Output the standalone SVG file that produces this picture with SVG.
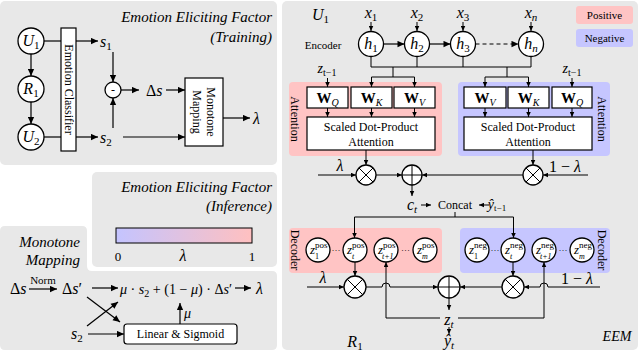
<svg xmlns="http://www.w3.org/2000/svg" width="640" height="352" viewBox="0 0 640 352">
<defs>
<style>
text{font-family:"Liberation Serif","DejaVu Serif",serif;fill:#000}
.m{font-style:italic;font-size:16px}
.sub{font-size:11px;font-style:normal}
.ttl{font-style:italic;font-size:15px}
.sm{font-size:12px}
.xs{font-size:11px}
.ln{stroke:#000;stroke-width:1.2;fill:none}
.th{stroke:#000;stroke-width:1;fill:none}
.box{fill:#fff;stroke:#000;stroke-width:1.2}
.nd{fill:#fff;stroke:#000;stroke-width:1.3}
.panel{fill:#e8e8e8}
.pos{fill:#ffc4c4}
.neg{fill:#c6c6ff}
.a{marker-end:url(#ar)}
.s{marker-end:url(#sa)}
</style>
<marker id="ar" viewBox="0 0 10 10" refX="10" refY="5" markerWidth="8" markerHeight="7" orient="auto" markerUnits="userSpaceOnUse"><path d="M0,0.5 L10,5 L0,9.5 z" fill="#000"/></marker>
<marker id="sa" viewBox="0 0 10 10" refX="10" refY="5" markerWidth="6" markerHeight="5" orient="auto" markerUnits="userSpaceOnUse"><path d="M0,0.5 L10,5 L0,9.5 z" fill="#000"/></marker>
<linearGradient id="lg" x1="0" x2="1" y1="0" y2="0"><stop offset="0" stop-color="#c4c4ff"/><stop offset="1" stop-color="#ffc0c0"/></linearGradient>
<g id="ot"><circle r="10" class="nd"/><path d="M-7.07,-7.07 L7.07,7.07 M-7.07,7.07 L7.07,-7.07" class="th"/></g>
<g id="op"><circle r="10" class="nd"/><path d="M-10,0 H10 M0,-10 V10" class="th"/></g>
<g id="ot2"><circle r="11" class="nd"/><path d="M-7.8,-7.8 L7.8,7.8 M-7.8,7.8 L7.8,-7.8" class="th"/></g>
<g id="op2"><circle r="11" class="nd"/><path d="M-11,0 H11 M0,-11 V11" class="th"/></g>
</defs>

<!-- panels -->
<rect class="panel" x="0" y="1" width="277" height="164" rx="5"/>
<rect class="panel" x="92" y="172" width="185" height="95" rx="5"/>
<path class="panel" d="M5,226 H82 Q87,226 87,231 V266 Q87,271 92,271 H272 Q277,271 277,276 V345 Q277,350 272,350 H5 Q0,350 0,345 V231 Q0,226 5,226 Z"/>
<rect class="panel" x="282" y="1" width="356" height="349" rx="5"/>

<!-- Training panel -->
<g id="training-title">
<text class="ttl" x="272" y="22" text-anchor="end">Emotion Eliciting Factor</text>
<text class="ttl" x="272" y="42" text-anchor="end">(Training)</text>
</g>
<g id="U1"><circle class="nd" cx="31" cy="41" r="13"/><text class="m" x="31" y="46" text-anchor="middle">U<tspan class="sub" dy="3">1</tspan></text></g>
<g id="R1"><circle class="nd" cx="31" cy="89" r="13"/><text class="m" x="31" y="94" text-anchor="middle">R<tspan class="sub" dy="3">1</tspan></text></g>
<g id="U2"><circle class="nd" cx="31" cy="137" r="13"/><text class="m" x="31" y="142" text-anchor="middle">U<tspan class="sub" dy="3">2</tspan></text></g>
<g id="emotion-classifier"><rect class="box" x="61" y="28" width="15" height="123"/><text class="sm" transform="translate(68.5,89.5) rotate(90)" text-anchor="middle" y="4">Emotion Classifier</text></g>
<g id="s1"><text class="m" x="100" y="47">s<tspan class="sub" dy="3">1</tspan></text></g>
<g id="s2"><text class="m" x="100" y="143">s<tspan class="sub" dy="3">2</tspan></text></g>
<g id="minus"><circle class="nd" cx="113" cy="90" r="8"/><text class="sm" x="113" y="94" text-anchor="middle">-</text></g>
<g id="ds"><text class="m" x="146" y="96" style="font-style:normal">Δ<tspan style="font-style:italic">s</tspan></text></g>
<g id="monotone-box"><rect class="box" x="185" y="78" width="38" height="68"/><text class="sm" transform="translate(204,112) rotate(90)" text-anchor="middle"><tspan x="0" y="-3">Monotone</tspan><tspan x="0" y="11">Mapping</tspan></text></g>
<g id="lam1"><text class="m" x="253" y="124">λ</text></g>

<!-- Inference panel -->
<g id="inference">
<text class="ttl" x="272" y="192" text-anchor="end">Emotion Eliciting Factor</text>
<text class="ttl" x="272" y="211" text-anchor="end">(Inference)</text>
<rect x="116" y="228" width="136" height="15" fill="url(#lg)" stroke="#000" stroke-width="1"/>
<text class="sm" x="118" y="261" text-anchor="middle" style="font-size:13px">0</text>
<text class="m" x="183" y="261" text-anchor="middle">λ</text>
<text class="sm" x="252" y="261" text-anchor="middle" style="font-size:13px">1</text>
</g>

<!-- Monotone mapping panel -->
<g id="mm-title">
<text class="ttl" x="80" y="247" text-anchor="end">Monotone</text>
<text class="ttl" x="80" y="265" text-anchor="end">Mapping</text>
</g>
<g id="mm-ds"><text class="m" x="10" y="294" style="font-style:normal">Δ<tspan style="font-style:italic">s</tspan></text><text class="xs" x="43" y="284" text-anchor="middle">Norm</text></g>
<g id="mm-ds2"><text class="m" x="62" y="294" style="font-style:normal">Δ<tspan style="font-style:italic">s</tspan>′</text></g>
<g id="mm-formula"><text class="m" x="120" y="294" style="font-size:14px" textLength="112" lengthAdjust="spacingAndGlyphs"><tspan>μ</tspan><tspan style="font-style:normal"> · </tspan>s<tspan class="sub" dy="3" style="font-size:10px">2</tspan><tspan dy="-3" style="font-style:normal"> + (1 − </tspan>μ<tspan style="font-style:normal">) · Δ</tspan>s<tspan style="font-style:normal">′</tspan></text></g>
<g id="mm-lam"><text class="m" x="256" y="294">λ</text></g>
<g id="mm-s2"><text class="m" x="71" y="339">s<tspan class="sub" dy="3">2</tspan></text></g>
<g id="linear-sigmoid"><rect class="box" x="124" y="324" width="113" height="20" rx="3"/><text class="sm" x="180.5" y="338" text-anchor="middle">Linear &amp; Sigmoid</text></g>
<g id="mm-mu"><text class="m" x="184" y="318" style="font-size:14px">μ</text></g>

<!-- Right panel: EEM -->
<g id="eem-U1"><text class="m" x="312" y="20">U<tspan class="sub" dy="3">1</tspan></text></g>
<g id="encoder-label"><text class="xs" x="323" y="49" text-anchor="middle">Encoder</text></g>
<g id="x-labels">
<text class="m" x="371" y="18" text-anchor="middle">x<tspan class="sub" dy="3">1</tspan></text>
<text class="m" x="417" y="18" text-anchor="middle">x<tspan class="sub" dy="3">2</tspan></text>
<text class="m" x="463" y="18" text-anchor="middle">x<tspan class="sub" dy="3">3</tspan></text>
<text class="m" x="531" y="18" text-anchor="middle">x<tspan class="sub" dy="3" style="font-style:italic">n</tspan></text>
</g>
<g id="h1"><circle class="nd" cx="371" cy="44" r="12.5"/><text class="m" x="371" y="49" text-anchor="middle">h<tspan class="sub" dy="3">1</tspan></text></g>
<g id="h2"><circle class="nd" cx="417" cy="44" r="12.5"/><text class="m" x="417" y="49" text-anchor="middle">h<tspan class="sub" dy="3">2</tspan></text></g>
<g id="h3"><circle class="nd" cx="463" cy="44" r="12.5"/><text class="m" x="463" y="49" text-anchor="middle">h<tspan class="sub" dy="3">3</tspan></text></g>
<g id="hn"><circle class="nd" cx="531" cy="44" r="12.5"/><text class="m" x="531" y="49" text-anchor="middle">h<tspan class="sub" dy="3" style="font-style:italic">n</tspan></text></g>
<g id="legend">
<rect class="pos" x="576" y="6" width="57" height="18" rx="3"/><text class="xs" x="604.5" y="19" text-anchor="middle">Positive</text>
<rect class="neg" x="576" y="29" width="57" height="18" rx="3"/><text class="xs" x="604.5" y="42" text-anchor="middle">Negative</text>
</g>
<g id="zt1-labels">
<text class="m" x="327" y="73" text-anchor="middle" style="font-size:14px">z<tspan class="sub" dy="3" style="font-size:10px">t−1</tspan></text>
<text class="m" x="572" y="73" text-anchor="middle" style="font-size:14px">z<tspan class="sub" dy="3" style="font-size:10px">t−1</tspan></text>
</g>

<g id="attention-pos">
<rect class="pos" x="289" y="82" width="153" height="74" rx="4"/>
<text class="sm" transform="translate(295,119) rotate(90)" text-anchor="middle" y="4">Attention</text>
<rect class="box" x="307" y="87" width="41" height="21"/><text x="327.5" y="103" text-anchor="middle" style="font-weight:bold;font-size:15px">W<tspan dy="3" style="font-size:10px;font-style:italic;font-weight:normal">Q</tspan></text>
<rect class="box" x="351" y="87" width="41" height="21"/><text x="371.5" y="103" text-anchor="middle" style="font-weight:bold;font-size:15px">W<tspan dy="3" style="font-size:10px;font-style:italic;font-weight:normal">K</tspan></text>
<rect class="box" x="394" y="87" width="41" height="21"/><text x="414.5" y="103" text-anchor="middle" style="font-weight:bold;font-size:15px">W<tspan dy="3" style="font-size:10px;font-style:italic;font-weight:normal">V</tspan></text>
<rect class="box" x="307" y="117" width="128" height="33"/>
<text class="sm" x="371" y="131" text-anchor="middle">Scaled Dot-Product</text>
<text class="sm" x="371" y="146" text-anchor="middle">Attention</text>
</g>
<g id="attention-neg">
<rect class="neg" x="458" y="82" width="152" height="74" rx="4"/>
<text class="sm" transform="translate(602,119) rotate(90)" text-anchor="middle" y="4">Attention</text>
<rect class="box" x="464" y="87" width="42" height="21"/><text x="485" y="103" text-anchor="middle" style="font-weight:bold;font-size:15px">W<tspan dy="3" style="font-size:10px;font-style:italic;font-weight:normal">V</tspan></text>
<rect class="box" x="508" y="87" width="41" height="21"/><text x="528.5" y="103" text-anchor="middle" style="font-weight:bold;font-size:15px">W<tspan dy="3" style="font-size:10px;font-style:italic;font-weight:normal">K</tspan></text>
<rect class="box" x="552" y="87" width="40" height="21"/><text x="572" y="103" text-anchor="middle" style="font-weight:bold;font-size:15px">W<tspan dy="3" style="font-size:10px;font-style:italic;font-weight:normal">Q</tspan></text>
<rect class="box" x="464" y="117" width="128" height="33"/>
<text class="sm" x="528" y="131" text-anchor="middle">Scaled Dot-Product</text>
<text class="sm" x="528" y="146" text-anchor="middle">Attention</text>
</g>

<g id="mix-top">
<use href="#ot" x="366" y="175"/>
<use href="#op" x="412" y="175"/>
<use href="#ot" x="533" y="175"/>
<text class="m" x="340" y="171" text-anchor="middle">λ</text>
<text class="m" x="565" y="172" text-anchor="middle" style="font-style:normal">1 − <tspan style="font-style:italic">λ</tspan></text>
</g>
<g id="concat">
<text class="m" x="412" y="210" text-anchor="middle">c<tspan class="sub" dy="3" style="font-style:italic">t</tspan></text>
<text class="sm" x="455" y="209" text-anchor="middle">Concat</text>
<text class="m" x="497" y="209" text-anchor="middle" style="font-size:14px">ŷ<tspan class="sub" dy="2" style="font-size:9px">t−1</tspan></text>
</g>

<g id="decoder-pos">
<rect class="pos" x="289" y="228" width="153" height="45" rx="4"/>
<text class="sm" transform="translate(295,250) rotate(90)" text-anchor="middle" y="4">Decoder</text>
<text class="xs" x="336" y="253" text-anchor="middle" style="font-size:9px">···</text>
<text class="xs" x="405.5" y="253" text-anchor="middle" style="font-size:9px">···</text>
</g>
<g id="zpos1"><circle class="nd" cx="318" cy="250" r="12"/><text class="m" x="310" y="254" style="font-size:13px">z</text><text x="315" y="248" style="font-size:9px">pos</text><text x="315" y="259" style="font-size:8px">1</text></g>
<g id="zpost"><circle class="nd" cx="355" cy="250" r="12"/><text class="m" x="347" y="254" style="font-size:13px">z</text><text x="352" y="248" style="font-size:9px">pos</text><text x="352" y="259" style="font-size:8px;font-style:italic">t</text></g>
<g id="zpost1"><circle class="nd" cx="386" cy="250" r="12"/><text class="m" x="378" y="254" style="font-size:13px">z</text><text x="383" y="248" style="font-size:9px">pos</text><text x="382" y="259" style="font-size:8px;font-style:italic">t+1</text></g>
<g id="zposm"><circle class="nd" cx="425" cy="250" r="12"/><text class="m" x="417" y="254" style="font-size:13px">z</text><text x="422" y="248" style="font-size:9px">pos</text><text x="422" y="259" style="font-size:8px;font-style:italic">m</text></g>

<g id="decoder-neg">
<rect class="neg" x="460" y="228" width="150" height="45" rx="4"/>
<text class="sm" transform="translate(602,250) rotate(90)" text-anchor="middle" y="4">Decoder</text>
<text class="xs" x="495" y="253" text-anchor="middle" style="font-size:9px">···</text>
<text class="xs" x="563" y="253" text-anchor="middle" style="font-size:9px">···</text>
</g>
<g id="zneg1"><circle class="nd" cx="477" cy="250" r="12"/><text class="m" x="469" y="254" style="font-size:13px">z</text><text x="474" y="248" style="font-size:9px">neg</text><text x="474" y="259" style="font-size:8px">1</text></g>
<g id="znegt"><circle class="nd" cx="513" cy="250" r="12"/><text class="m" x="505" y="254" style="font-size:13px">z</text><text x="510" y="248" style="font-size:9px">neg</text><text x="510" y="259" style="font-size:8px;font-style:italic">t</text></g>
<g id="znegt1"><circle class="nd" cx="544" cy="250" r="12"/><text class="m" x="536" y="254" style="font-size:13px">z</text><text x="541" y="248" style="font-size:9px">neg</text><text x="540" y="259" style="font-size:8px;font-style:italic">t+1</text></g>
<g id="znegm"><circle class="nd" cx="582" cy="250" r="12"/><text class="m" x="574" y="254" style="font-size:13px">z</text><text x="579" y="248" style="font-size:9px">neg</text><text x="579" y="259" style="font-size:8px;font-style:italic">m</text></g>

<g id="mix-bottom">
<use href="#ot2" x="355" y="287"/>
<use href="#op2" x="449" y="287"/>
<use href="#ot2" x="513" y="287"/>
<text class="m" x="323" y="283" text-anchor="middle">λ</text>
<text class="m" x="577" y="284" text-anchor="middle" style="font-style:normal">1 − <tspan style="font-style:italic">λ</tspan></text>
</g>
<g id="outputs">
<text class="m" x="449" y="325" text-anchor="middle">z<tspan class="sub" dy="3" style="font-style:italic">t</tspan></text>
<text class="m" x="449" y="346" text-anchor="middle">ŷ<tspan class="sub" dy="3" style="font-style:italic">t</tspan></text>
<text class="m" x="355" y="347" text-anchor="middle">R<tspan class="sub" dy="3">1</tspan></text>
<text class="m" x="617" y="341" text-anchor="middle" style="font-size:14px">EEM</text>
</g>

<!-- connectors -->
<g id="connectors">
<!-- training -->
<path class="ln a" d="M31,54 V76"/>
<path class="ln a" d="M31,102 V124"/>
<path class="ln" d="M44,41 H61"/>
<path class="ln" d="M44,137 H61"/>
<path class="ln a" d="M76,41 H98"/>
<path class="ln a" d="M76,137 H98"/>
<path class="ln a" d="M113,52 V82"/>
<path class="ln a" d="M113,128 V98"/>
<path class="ln a" d="M121,90 H139"/>
<path class="ln a" d="M166,90 H185"/>
<path class="ln a" d="M123,137 H185"/>
<path class="ln a" d="M223,118 H250"/>
<!-- monotone mapping -->
<path class="ln a" d="M29,289 H57"/>
<path class="ln a" d="M92,288 H118"/>
<path class="ln a" d="M235,288 H251"/>
<path class="ln a" d="M87,297 L120,322"/>
<path class="ln a" d="M87,326 L118,302"/>
<path class="ln a" d="M88,334 H124"/>
<path class="ln a" d="M180,324 V303"/>
<!-- encoder -->
<path class="th s" d="M371,22 V31"/>
<path class="th s" d="M417,22 V31"/>
<path class="th s" d="M463,22 V31"/>
<path class="th s" d="M531,22 V31"/>
<path class="ln a" d="M383.5,44 H404.5"/>
<path class="ln a" d="M429.5,44 H450.5"/>
<path class="ln a" d="M475.5,44 H518.5" stroke-dasharray="4,3"/>
<path class="th" d="M371,56.5 V67 M417,56.5 V67 M463,56.5 V67 M531,56.5 V67 M371,67 H531"/>
<path class="th" d="M393,67 V77 M371.5,77 H414.5 M507,67 V77 M485,77 H528.5"/>
<path class="th s" d="M371.5,77 V87"/>
<path class="th s" d="M414.5,77 V87"/>
<path class="th s" d="M485,77 V87"/>
<path class="th s" d="M528.5,77 V87"/>
<path class="th s" d="M327.5,78 V87"/>
<path class="th s" d="M572,78 V87"/>
<path class="th s" d="M327.5,108 V117"/>
<path class="th s" d="M371.5,108 V117"/>
<path class="th s" d="M414.5,108 V117"/>
<path class="th s" d="M485,108 V117"/>
<path class="th s" d="M528.5,108 V117"/>
<path class="th s" d="M572,108 V117"/>
<!-- top mixing -->
<path class="th s" d="M366,150 V165"/>
<path class="th s" d="M533,150 V165"/>
<path class="th s" d="M318,175 H356"/>
<path class="th s" d="M376,175 H402"/>
<path class="th s" d="M523,175 H422"/>
<path class="th s" d="M588,175 H543"/>
<path class="th s" d="M412,185 V196"/>
<path class="th s" d="M421,205 H431"/>
<path class="th s" d="M489,205 H479"/>
<path class="th" d="M455,212 V217 M354.5,217 H513.5"/>
<path class="th s" d="M354.5,217 V238"/>
<path class="th s" d="M513.5,217 V238"/>
<!-- decoder mixing -->
<path class="th s" d="M355,262 V276"/>
<path class="th s" d="M513,262 V276"/>
<path class="th s" d="M307,287 H344"/>
<path class="th s" d="M366,287 H382 A4,4 0 0 1 390,287 H438"/>
<path class="th s" d="M600,287 H548 A4,4 0 0 0 540,287 H524"/>
<path class="th s" d="M502,287 H460"/>
<path class="th s" d="M386,318 V262"/>
<path class="th s" d="M544,318 V262"/>
<path class="th" d="M386,318 H440 M458,318 H544"/>
<path class="th s" d="M449,298 V310"/>
<path class="th s" d="M449,327 V334"/>
</g>
</svg>
